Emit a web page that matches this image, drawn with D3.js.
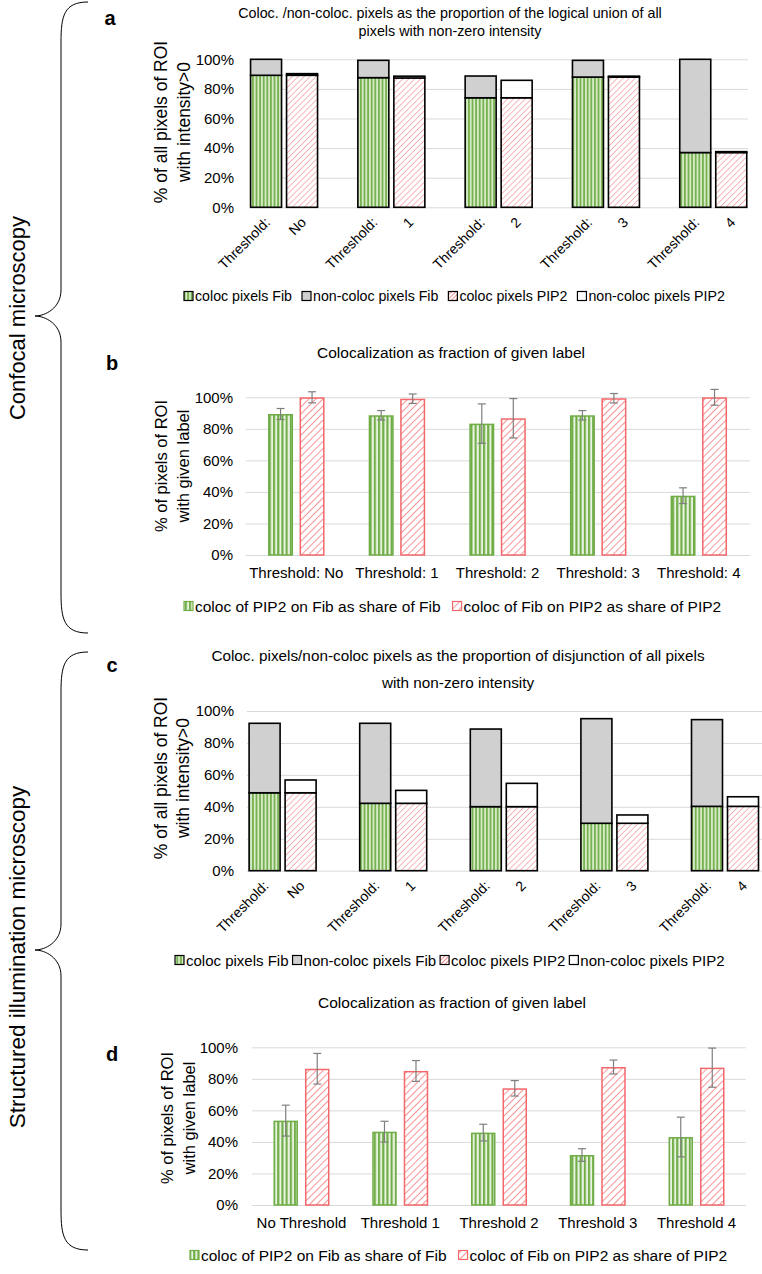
<!DOCTYPE html>
<html><head><meta charset="utf-8">
<script src="https://cdn.jsdelivr.net/npm/d3@7"></script>
<style>
body{margin:0;background:#fff}
svg{display:block}
text{font-family:"Liberation Sans",Arial,sans-serif;fill:#000}
</style>
</head><body>
<svg id="fig" width="762" height="1274"></svg>
<script>
// ---------------- DATA ----------------
const thresholdWord = "Threshold:";
const thresholdSuffix = ["No", "1", "2", "3", "4"];
const categoriesB = ["Threshold: No", "Threshold: 1", "Threshold: 2", "Threshold: 3", "Threshold: 4"];
const categoriesD = ["No Threshold", "Threshold 1", "Threshold 2", "Threshold 3", "Threshold 4"];
const yTickValues = [0, 20, 40, 60, 80, 100];

const stackedNames = ["coloc pixels Fib", "non-coloc pixels Fib", "coloc pixels PIP2", "non-coloc pixels PIP2"];
const fractionNames = ["coloc of PIP2 on Fib as share of Fib", "coloc of Fib on PIP2 as share of PIP2"];

// panel a (confocal, stacked)
const colocFibA     = [89.2, 87.6, 74.0, 88.0, 37.0];
const nonColocFibA  = [10.8, 11.7, 14.7, 11.3, 63.0];
const colocPip2A    = [89.2, 87.4, 74.0, 88.0, 37.0];
const nonColocPip2A = [1.1, 1.2, 11.8, 0.6, 0.6];

// panel b (confocal, fraction)
const fibB    = [89.4, 88.6, 83.3, 88.6, 37.6];
const fibErrB = [3.5, 3.0, 12.5, 3.0, 5.0];
const pipB    = [100.0, 99.1, 86.7, 99.4, 100.0];
const pipErrB = [3.5, 3.0, 12.5, 3.0, 5.0];

// panel c (SIM, stacked)
const colocFibC     = [48.8, 42.2, 40.1, 29.7, 40.3];
const nonColocFibC  = [43.5, 50.1, 48.6, 65.5, 54.3];
const colocPip2C    = [48.8, 42.2, 40.1, 29.7, 40.3];
const nonColocPip2C = [8.0, 8.1, 14.6, 5.2, 6.0];

// panel d (SIM, fraction)
const fibD    = [53.5, 46.5, 45.9, 31.7, 43.1];
const fibErrD = [9.8, 6.6, 5.3, 4.0, 12.6];
const pipD    = [86.4, 85.0, 74.0, 87.5, 87.1];
const pipErrD = [9.7, 6.6, 4.9, 4.4, 12.4];

// ---------------- DRAWING ----------------
const svg = d3.select("#fig");
const FONT = '"Liberation Sans", Arial, sans-serif';
const GREEN = "#70AD47", RED = "#F2686B", GRID = "#D9D9D9", ERR = "#7F7F7F";

const defs = svg.append("defs");
function stripePattern(id, dark, light, w) {
  const p = defs.append("pattern").attr("id", id).attr("patternUnits", "userSpaceOnUse")
    .attr("width", w).attr("height", 10);
  p.append("rect").attr("width", w).attr("height", 10).attr("fill", light);
  p.append("rect").attr("width", w / 2).attr("height", 10).attr("fill", dark);
}
function hatchPattern(id, color, w, sw) {
  const p = defs.append("pattern").attr("id", id).attr("patternUnits", "userSpaceOnUse")
    .attr("width", w).attr("height", w).attr("patternTransform", "rotate(45)");
  p.append("rect").attr("width", w).attr("height", w).attr("fill", "#fff");
  p.append("line").attr("x1", 0).attr("y1", 0).attr("x2", 0).attr("y2", w)
    .attr("stroke", color).attr("stroke-width", sw);
}
stripePattern("stripeA", "#78B250", "#D6EAC8", 3.6);
stripePattern("stripeB", "#70AD47", "#E8F3E0", 4.2);
hatchPattern("hatchA", "#EE7B7E", 4.2, 1.1);
hatchPattern("hatchB", "#F26A6D", 5.0, 1.4);
hatchPattern("hatchIcon", "#E0474B", 3.0, 1.2);

function panelLetter(letter, x, y) {
  svg.append("text").attr("x", x).attr("y", y).attr("text-anchor", "middle")
    .attr("dominant-baseline", "central").style("font-size", "20px").style("font-weight", "bold").text(letter);
}
function titleLines(lines, cx, ys, size) {
  lines.forEach((t, i) => svg.append("text").attr("x", cx).attr("y", ys[i]).attr("text-anchor", "middle")
    .attr("dominant-baseline", "central").style("font-size", size + "px").text(t));
}
function yTitle(lines, xs, cy, size) {
  lines.forEach((t, i) => svg.append("text")
    .attr("transform", `translate(${xs[i]},${cy}) rotate(-90)`)
    .attr("text-anchor", "middle").attr("dominant-baseline", "central")
    .style("font-size", size + "px").text(t));
}
function yAxisGrid(y, gridRange, labelRight, size) {
  const g = svg.append("g").attr("transform", `translate(${gridRange[0]},0)`);
  g.call(d3.axisLeft(y).tickValues(yTickValues).tickFormat(d => d + "%")
    .tickSize(-(gridRange[1] - gridRange[0])).tickPadding(gridRange[0] - labelRight));
  g.select(".domain").remove();
  g.selectAll(".tick line").attr("stroke", GRID).attr("stroke-width", 1);
  g.selectAll(".tick text").style("font-size", size + "px").style("font-family", FONT).attr("fill", "#000");
}
function legend(items, startX, y, size, icon, gapIcon, spacing) {
  let x = startX;
  items.forEach(it => {
    svg.append("rect").attr("x", x).attr("y", y - icon / 2).attr("width", icon).attr("height", icon)
      .attr("fill", it.fill).attr("stroke", it.stroke).attr("stroke-width", 1.2);
    const t = svg.append("text").attr("x", x + icon + gapIcon).attr("y", y)
      .attr("dominant-baseline", "central").style("font-size", size + "px").text(it.label);
    x += icon + gapIcon + t.node().getComputedTextLength() + spacing;
  });
}

// -------- stacked panel (a, c) --------
function stackedPanel(cfg) {
  const x = d3.scaleBand().domain(thresholdSuffix).range(cfg.band);
  const inner = d3.scaleBand().domain(["Fib", "PIP2"])
    .range([-(cfg.barW + cfg.gap / 2), cfg.barW + cfg.gap / 2])
    .paddingInner(cfg.gap / (cfg.barW + cfg.gap));
  const y = d3.scaleLinear().domain([0, 100]).range([cfg.y0, cfg.y100]);
  yAxisGrid(y, cfg.grid, cfg.labelRight, cfg.tickSize);

  const rows = thresholdSuffix.map((c, i) => ({
    cat: c,
    Fib: { coloc: cfg.colocFib[i], non: cfg.nonFib[i] },
    PIP2: { coloc: cfg.colocPip[i], non: cfg.nonPip[i] }
  }));
  const stack = d3.stack().keys(["coloc", "non"]);
  const fills = { Fib: ["url(#stripeA)", "#D0D0D0"], PIP2: ["url(#hatchA)", "#FFFFFF"] };
  ["Fib", "PIP2"].forEach(s => {
    const layers = stack(rows.map(r => r[s]));
    layers.forEach((layer, li) => {
      svg.append("g").selectAll("rect").data(layer).join("rect")
        .attr("x", (d, i) => x(thresholdSuffix[i]) + x.bandwidth() / 2 + inner(s))
        .attr("width", inner.bandwidth())
        .attr("y", d => y(d[1]))
        .attr("height", d => y(d[0]) - y(d[1]))
        .attr("fill", fills[s][li]).attr("stroke", "#000").attr("stroke-width", 1.6);
    });
  });
  // rotated category labels
  const lab = svg.append("g");
  thresholdSuffix.forEach(c => {
    const cx = x(c) + x.bandwidth() / 2;
    const gx = cx + inner("Fib") + inner.bandwidth() / 2 + 5;
    const px = cx + inner("PIP2") + inner.bandwidth() / 2 + 5;
    lab.append("text").attr("transform", `translate(${gx},${cfg.y0 + 16}) rotate(-45)`)
      .attr("text-anchor", "end").style("font-size", cfg.labelSize + "px").text(thresholdWord);
    lab.append("text").attr("transform", `translate(${px},${cfg.y0 + 16}) rotate(-45)`)
      .attr("text-anchor", "end").style("font-size", cfg.labelSize + "px").text(c);
  });
}

// -------- fraction panel (b, d) --------
function fractionPanel(cfg) {
  const x = d3.scaleBand().domain(cfg.cats).range(cfg.band);
  const inner = d3.scaleBand().domain(["Fib", "PIP2"])
    .range([-(cfg.barW + cfg.gap / 2), cfg.barW + cfg.gap / 2])
    .paddingInner(cfg.gap / (cfg.barW + cfg.gap));
  const y = d3.scaleLinear().domain([0, 100]).range([cfg.y0, cfg.y100]);
  yAxisGrid(y, cfg.grid, cfg.labelRight, cfg.tickSize);

  const series = [
    { key: "Fib", vals: cfg.fib, errs: cfg.fibErr, fill: "url(#stripeB)", stroke: GREEN },
    { key: "PIP2", vals: cfg.pip, errs: cfg.pipErr, fill: "url(#hatchB)", stroke: RED }
  ];
  series.forEach(s => {
    const data = cfg.cats.map((c, i) => ({ c, v: s.vals[i], e: s.errs[i] }));
    const bx = d => x(d.c) + x.bandwidth() / 2 + inner(s.key);
    svg.append("g").selectAll("rect").data(data).join("rect")
      .attr("x", d => bx(d) + 0.75).attr("width", inner.bandwidth() - 1.5)
      .attr("y", d => y(d.v) + 0.75).attr("height", d => y(0) - y(d.v) - 0.75)
      .attr("fill", s.fill).attr("stroke", s.stroke).attr("stroke-width", 1.5);
    const eg = svg.append("g").attr("stroke", ERR).attr("stroke-width", 1.2);
    data.forEach(d => {
      const mx = bx(d) + inner.bandwidth() / 2;
      eg.append("line").attr("x1", mx).attr("x2", mx).attr("y1", y(d.v + d.e)).attr("y2", y(d.v - d.e));
      eg.append("line").attr("x1", mx - 4).attr("x2", mx + 4).attr("y1", y(d.v + d.e)).attr("y2", y(d.v + d.e));
      eg.append("line").attr("x1", mx - 4).attr("x2", mx + 4).attr("y1", y(d.v - d.e)).attr("y2", y(d.v - d.e));
    });
  });
  const ax = svg.append("g").attr("transform", `translate(0,${cfg.y0})`)
    .call(d3.axisBottom(x).tickSize(0).tickPadding(cfg.xLabelPad));
  ax.select(".domain").remove();
  ax.selectAll("text").style("font-size", cfg.labelSize + "px").style("font-family", FONT).attr("fill", "#000");
}

// ---------- braces ----------
function brace(xEnd, xMid, xTip, yTop, yTip, yBot, rEnd, rTip) {
  const p = d3.path();
  p.moveTo(xEnd, yTop);
  p.bezierCurveTo(xMid + 3, yTop, xMid, yTop + rEnd * 0.35, xMid, yTop + rEnd);
  p.lineTo(xMid, yTip - rTip);
  p.bezierCurveTo(xMid, yTip - rTip * 0.3, xTip + 10, yTip, xTip, yTip);
  p.bezierCurveTo(xTip + 10, yTip, xMid, yTip + rTip * 0.3, xMid, yTip + rTip);
  p.lineTo(xMid, yBot - rEnd);
  p.bezierCurveTo(xMid, yBot - rEnd * 0.35, xMid + 3, yBot, xEnd, yBot);
  svg.append("path").attr("d", p.toString()).attr("fill", "none").attr("stroke", "#000").attr("stroke-width", 1);
}
brace(88, 61, 35, 2, 316, 633, 40, 26);
brace(88, 61, 35, 652, 950, 1250, 40, 26);
svg.append("text").attr("transform", "translate(17,318) rotate(-90)").attr("text-anchor", "middle")
  .attr("dominant-baseline", "central").style("font-size", "22px").text("Confocal microscopy");
svg.append("text").attr("transform", "translate(17,957) rotate(-90)").attr("text-anchor", "middle")
  .attr("dominant-baseline", "central").style("font-size", "22.5px").text("Structured illumination microscopy");

// ---------- Panel a ----------
panelLetter("a", 110, 18);
titleLines(["Coloc. /non-coloc. pixels as the proportion of the logical union of all",
            "pixels with non-zero intensity"], 450, [13, 31], 14.3);
yTitle(["% of all pixels of ROI", "with intensity>0"], [161, 184], 122, 17.5);
stackedPanel({ band: [230.4, 766.9], grid: [250, 748], y0: 207.3, y100: 59.3, barW: 31, gap: 5,
  labelRight: 234, tickSize: 15, labelSize: 14,
  colocFib: colocFibA, nonFib: nonColocFibA, colocPip: colocPip2A, nonPip: nonColocPip2A });
const stackedLegendItems = [
  { label: stackedNames[0], fill: "url(#stripeA)", stroke: "#000" },
  { label: stackedNames[1], fill: "#D0D0D0", stroke: "#000" },
  { label: stackedNames[2], fill: "url(#hatchIcon)", stroke: "#000" },
  { label: stackedNames[3], fill: "#FFFFFF", stroke: "#000" }
];
legend(stackedLegendItems, 184, 296, 14.2, 9, 2, 10);

// ---------- Panel b ----------
panelLetter("b", 112, 363);
titleLines(["Colocalization as fraction of given label"], 451, [352], 15.5);
yTitle(["% of pixels of ROI", "with given label"], [161, 183], 466, 16.5);
fractionPanel({ cats: categoriesB, band: [246, 749.1], grid: [245.6, 750], y0: 555, y100: 397.3,
  barW: 25, gap: 6.5, labelRight: 233, tickSize: 15, labelSize: 15, xLabelPad: 12,
  fib: fibB, fibErr: fibErrB, pip: pipB, pipErr: pipErrB });
const fractionLegendItems = [
  { label: fractionNames[0], fill: "url(#stripeB)", stroke: GREEN },
  { label: fractionNames[1], fill: "url(#hatchB)", stroke: RED }
];
legend(fractionLegendItems, 184, 606, 15.5, 9, 2, 12);

// ---------- Panel c ----------
panelLetter("c", 112, 665);
titleLines(["Coloc. pixels/non-coloc pixels as the proportion of disjunction of all pixels",
            "with non-zero intensity"], 458, [655, 682], 15.3);
yTitle(["% of all pixels of ROI", "with intensity>0"], [161, 183], 778, 17.5);
stackedPanel({ band: [227.3, 780.3], grid: [246.9, 762], y0: 870.7, y100: 711, barW: 31, gap: 5,
  labelRight: 234, tickSize: 15, labelSize: 14,
  colocFib: colocFibC, nonFib: nonColocFibC, colocPip: colocPip2C, nonPip: nonColocPip2C });
legend(stackedLegendItems, 175, 960, 15, 9, 2, 4);

// ---------- Panel d ----------
panelLetter("d", 112, 1054);
titleLines(["Colocalization as fraction of given label"], 452, [1002], 15.5);
yTitle(["% of pixels of ROI", "with given label"], [167, 189], 1118, 16.5);
fractionPanel({ cats: categoriesD, band: [252.1, 745.9], grid: [252, 745.8], y0: 1205, y100: 1047.3,
  barW: 24.5, gap: 7, labelRight: 238, tickSize: 15, labelSize: 15, xLabelPad: 12,
  fib: fibD, fibErr: fibErrD, pip: pipD, pipErr: pipErrD });
legend(fractionLegendItems, 190, 1255, 15.5, 9, 2, 12);
</script>
</body></html>
